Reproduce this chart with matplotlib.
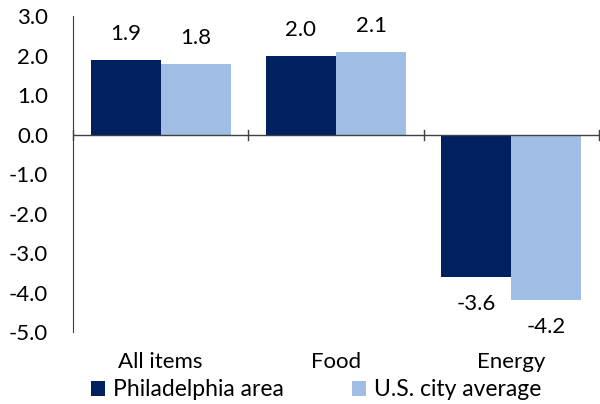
import matplotlib.pyplot as plt
import numpy as np

plt.rcParams['font.family'] = ['Lato', 'DejaVu Sans']

categories = ['All items', 'Food', 'Energy']
philly = [1.9, 2.0, -3.6]
us_avg = [1.8, 2.1, -4.2]
yticks = [3.0, 2.0, 1.0, 0.0, -1.0, -2.0, -3.0, -4.0, -5.0]

FS = 16

fig = plt.figure(figsize=(6.0, 4.04), dpi=100)
ax = fig.add_axes([73 / 600, 1 - 332 / 404, 526 / 600, 315.5 / 404])

x = np.arange(len(categories))
w = 0.4
b1 = ax.bar(x - w / 2, philly, w, color='#002060', label='Philadelphia area')
b2 = ax.bar(x + w / 2, us_avg, w, color='#9fbde5', label='U.S. city average')

# value labels above positive bars, below negative ones
for bars, vals in [(b1, philly), (b2, us_avg)]:
    for bar, v in zip(bars, vals):
        off = 26 if v >= 0 else -27
        ax.annotate(f'{v:.1f}', (bar.get_x() + bar.get_width() / 2, v),
                    xytext=(0, off), textcoords='offset pixels',
                    ha='center', va='center', fontsize=FS)

ax.set_xlim(-0.5, 2.5)
ax.set_ylim(-5, 3)
ax.set_yticks(yticks)
ax.set_yticklabels([f'{t:.1f}' for t in yticks], fontsize=FS)
ax.tick_params(axis='y', length=0, pad=18)

for s in ['top', 'right', 'bottom']:
    ax.spines[s].set_visible(False)
ax.spines['left'].set_color('#404040')

# zero line with small tick marks at the category boundaries
ax.axhline(0, color='#404040', lw=1, zorder=3)
for xb in [-0.5, 0.5, 1.5, 2.5]:
    ax.plot([xb, xb], [-0.12, 0.12], color='#404040', lw=1, clip_on=False, zorder=3)

ax.set_xticks([])
for xi, c in zip(x, categories):
    ax.annotate(c, (xi, -5), xytext=(0, -30), textcoords='offset pixels',
                ha='center', va='center', fontsize=FS)

ax.legend(loc='center left', bbox_to_anchor=(91 / 600, (404 - 390) / 404),
          bbox_transform=fig.transFigure, ncol=2, frameon=False, fontsize=16.5,
          handlelength=0.62, handleheight=0.62, handletextpad=0.32,
          columnspacing=3.0, borderpad=0, borderaxespad=0)

fig.savefig('out.png', dpi=100)
